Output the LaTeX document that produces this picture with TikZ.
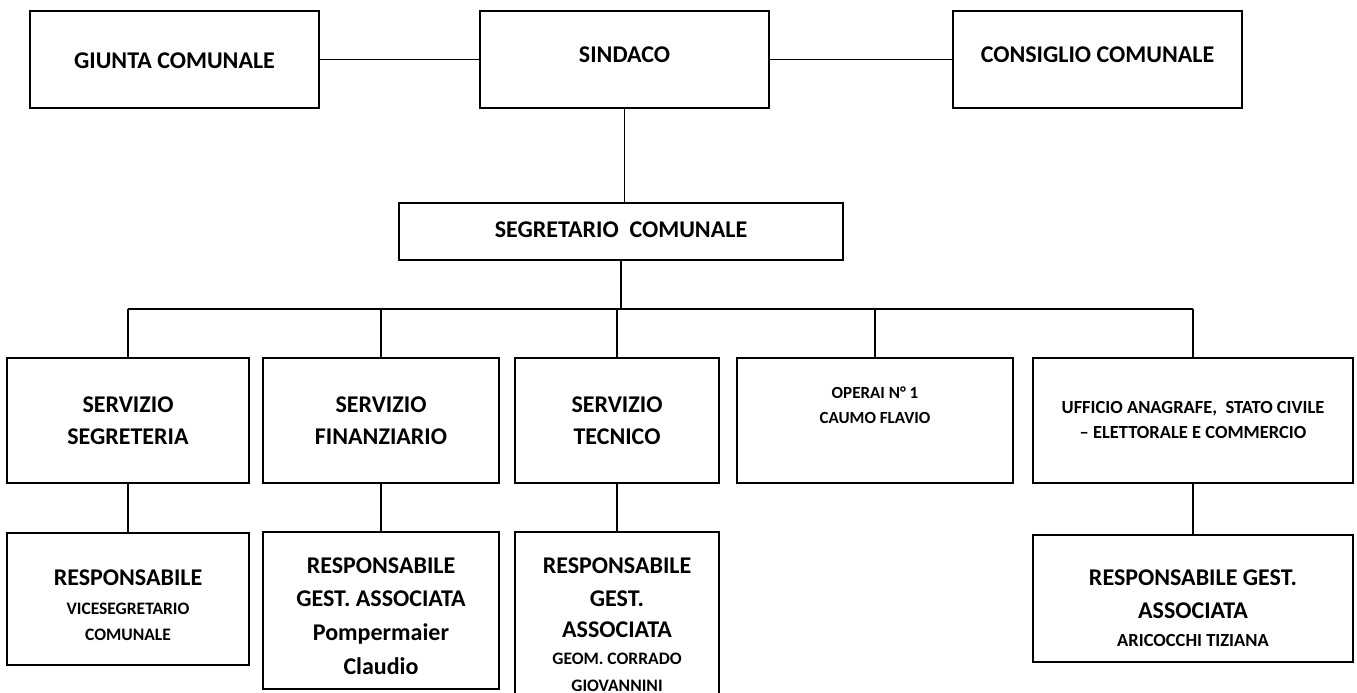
\documentclass[tikz,border=0pt]{standalone}
\usepackage{fontspec}
\setmainfont{Carlito}
\newcommand\fsz[1]{\fontsize{#1}{#1}\selectfont}
\tikzset{
  box/.style={draw=black, line width=1.8pt, rectangle, inner sep=0pt},
  conn/.style={draw=black, line width=1.3pt},
  txt/.style={anchor=base, inner sep=0pt, font=\bfseries\fsz{#1}},
}
\begin{document}
\begin{tikzpicture}[x=1pt,y=-1pt]
\useasboundingbox (0,0) rectangle (1357,693);
\clip (0,0) rectangle (1357,693);
% top row
\node[box, minimum width=289pt, minimum height=97pt] (giunta) at (174.5,59.5) {};
\node[box, minimum width=289pt, minimum height=97pt] (sindaco) at (624.5,59.5) {};
\node[box, minimum width=289pt, minimum height=97pt] (consiglio) at (1097.5,59.5) {};
\node[txt=24] (tgiunta) at (174.5,68) {GIUNTA COMUNALE};
\node[txt=24] (tsindaco) at (624.5,63) {SINDACO};
\node[txt=24] (tconsiglio) at (1097.5,63) {CONSIGLIO COMUNALE};
% segretario
\node[box, minimum width=444pt, minimum height=57pt] (segretario) at (621,231.5) {};
\node[txt=24] (tsegretario) at (621,237) {SEGRETARIO~~COMUNALE};
% second row
\node[box, minimum width=242pt, minimum height=125pt] (segreteria) at (128,420.5) {};
\node[box, minimum width=236pt, minimum height=125pt] (finanziario) at (381,420.5) {};
\node[box, minimum width=204pt, minimum height=125pt] (tecnico) at (617,420.5) {};
\node[box, minimum width=276pt, minimum height=125pt] (operai) at (875,420.5) {};
\node[box, minimum width=320pt, minimum height=125pt] (ufficio) at (1193,420.5) {};
\node[txt=24] (ts1) at (128,412) {SERVIZIO};
\node[txt=24] (ts2) at (128,444) {SEGRETERIA};
\node[txt=24] (tf1) at (381,412) {SERVIZIO};
\node[txt=24] (tf2) at (381,444) {FINANZIARIO};
\node[txt=24] (tt1) at (617,412) {SERVIZIO};
\node[txt=24] (tt2) at (617,444) {TECNICO};
\node[txt=17] (to1) at (875,398) {OPERAI N° 1};
\node[txt=17] (to2) at (875,423) {CAUMO FLAVIO};
\node[txt=18.5] (tu1) at (1193,413) {UFFICIO ANAGRAFE,~~STATO CIVILE};
\node[txt=18.5] (tu2) at (1193,438) {– ELETTORALE E COMMERCIO};
% third row
\node[box, minimum width=242pt, minimum height=132pt] (resp1) at (128,599) {};
\node[box, minimum width=236pt, minimum height=157pt] (resp2) at (381,610.5) {};
\node[box, minimum width=204pt, minimum height=190pt] (resp3) at (617,627) {};
\node[box, minimum width=320pt, minimum height=127pt] (resp4) at (1193,598.5) {};
\node[txt=24] (r1a) at (128,585) {RESPONSABILE};
\node[txt=17.5] (r1b) at (128,614) {VICESEGRETARIO};
\node[txt=17.5] (r1c) at (128,640) {COMUNALE};
\node[txt=24] (r2a) at (381,573) {RESPONSABILE};
\node[txt=24] (r2b) at (381,606) {GEST. ASSOCIATA};
\node[txt=24] (r2c) at (381,640) {Pompermaier};
\node[txt=24] (r2d) at (381,674) {Claudio};
\node[txt=24] (r3a) at (617,573) {RESPONSABILE};
\node[txt=24] (r3b) at (617,606) {GEST.};
\node[txt=24] (r3c) at (617,637) {ASSOCIATA};
\node[txt=17.5] (r3d) at (617,664) {GEOM. CORRADO};
\node[txt=17.5] (r3e) at (617,691) {GIOVANNINI};
\node[txt=24] (r4a) at (1193,585) {RESPONSABILE GEST.};
\node[txt=24] (r4b) at (1193,618) {ASSOCIATA};
\node[txt=18.5] (r4c) at (1193,646) {ARICOCCHI TIZIANA};
% connectors
\draw[conn] (giunta.east) -- (sindaco.west);
\draw[conn] (sindaco.east) -- (consiglio.west);
\draw[conn] (sindaco.south) -- (sindaco.south |- segretario.north);
\coordinate (bus) at (621,309);
\draw[conn] (segretario.south) -- (segretario.south |- bus);
\draw[conn] (segreteria.north |- bus) -- (ufficio.north |- bus);
\foreach \n in {segreteria,finanziario,tecnico,operai,ufficio}
  \draw[conn] (\n.north |- bus) -- (\n.north);
\draw[conn] (segreteria.south) -- (resp1.north);
\draw[conn] (finanziario.south) -- (resp2.north);
\draw[conn] (tecnico.south) -- (resp3.north);
\draw[conn] (ufficio.south) -- (resp4.north);
\end{tikzpicture}
\end{document}
